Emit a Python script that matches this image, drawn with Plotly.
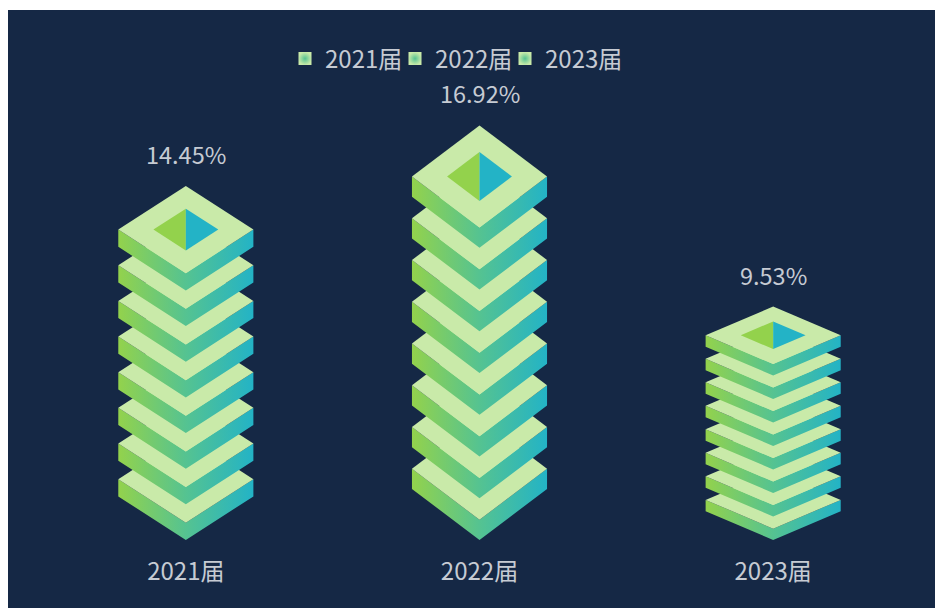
import plotly.graph_objects as go

categories = ["2021届", "2022届", "2023届"]
values = [14.45, 16.92, 9.53]
REPEAT = 8

NAVY = "#152845"
PLATE = "#c9eaa9"
GREEN = "#93d24c"
TEAL = "#23b3c6"
MID = "#55c391"
TEXT = "#c6cbd3"
FONT = "Noto Sans CJK SC"
FS = 24

HALF_W = 0.23        # half symbol width, x-axis units
SYM_FRAC = 0.295     # symbol height as fraction of bar
THICK_FRAC = 0.165   # side thickness as fraction of symbol
INNER = 0.48         # inner diamond size relative to plate

ramp = [[0, GREEN], [0.5, MID], [1, TEAL]]
fig = go.Figure()

for idx, v in enumerate(values):
    S = v * SYM_FRAC
    t = S * THICK_FRAC
    h = S - t
    step = (v - S) / (REPEAT - 1)
    for i in range(REPEAT):
        b = i * step
        mid = b + t + h / 2
        # side faces
        fig.add_trace(go.Scatter(
            x=[idx - HALF_W, idx, idx + HALF_W, idx + HALF_W, idx, idx - HALF_W, idx - HALF_W],
            y=[mid, b + t, mid, mid - t, b, mid - t, mid],
            mode="lines", line=dict(width=0), fill="toself",
            fillgradient=dict(type="horizontal", colorscale=ramp),
            hoverinfo="skip", showlegend=False))
        # top plate
        fig.add_trace(go.Scatter(
            x=[idx - HALF_W, idx, idx + HALF_W, idx, idx - HALF_W],
            y=[mid, b + t + h, mid, b + t, mid],
            mode="lines", line=dict(width=0), fill="toself", fillcolor=PLATE,
            hoverinfo="skip", showlegend=False))
    # inner diamond of the top symbol
    b = (REPEAT - 1) * step
    mid = b + t + h / 2
    iw, ih = HALF_W * INNER, h / 2 * INNER
    fig.add_trace(go.Scatter(
        x=[idx - iw, idx, idx, idx - iw], y=[mid, mid + ih, mid - ih, mid],
        mode="lines", line=dict(width=0), fill="toself", fillcolor=GREEN,
        hoverinfo="skip", showlegend=False))
    fig.add_trace(go.Scatter(
        x=[idx + iw, idx, idx, idx + iw], y=[mid, mid + ih, mid - ih, mid],
        mode="lines", line=dict(width=0), fill="toself", fillcolor=TEAL,
        hoverinfo="skip", showlegend=False))
    fig.add_annotation(x=idx, y=v, text=f"{v:.2f}%", showarrow=False, yshift=32,
                       yanchor="middle", font=dict(family=FONT, size=FS - 0.5, color=TEXT))

legend_ids = ["legend", "legend2", "legend3"]
legend_left = [285, 395, 505]   # left edge of each legend entry, px
for c, lid in zip(categories, legend_ids):
    fig.add_trace(go.Scatter(
        x=[None], y=[None], mode="markers", name=c, legend=lid,
        marker=dict(symbol="square", size=13, color=PLATE,
                    gradient=dict(type="radial", color=MID),
                    line=dict(width=0))))

legends = {
    lid: dict(orientation="h", x=px / 935, xanchor="left", xref="container",
              y=0.903, yanchor="middle", yref="container",
              bgcolor="rgba(0,0,0,0)", font=dict(family=FONT, size=FS, color=TEXT))
    for lid, px in zip(legend_ids, legend_left)
}

fig.update_layout(
    width=935, height=608,
    margin=dict(l=39, r=15, t=50, b=68, autoexpand=False),
    paper_bgcolor=NAVY, plot_bgcolor=NAVY,
    font=dict(family=FONT, size=FS, color=TEXT),
    xaxis=dict(range=[-0.5, 2.5], tickvals=[0, 1, 2], ticktext=categories,
               showgrid=False, zeroline=False, showline=False, ticks="outside",
               ticklen=10, tickcolor="rgba(0,0,0,0)",
               tickfont=dict(family=FONT, size=FS, color=TEXT)),
    yaxis=dict(range=[0, 20], visible=False),
    shapes=[
        dict(type="rect", xref="paper", yref="paper", x0=-39/881, x1=-31/881, y0=-68/490, y1=540/490,
             fillcolor="#ffffff", line=dict(width=0), layer="above"),
        dict(type="rect", xref="paper", yref="paper", x0=-39/881, x1=896/881, y0=530/490, y1=540/490,
             fillcolor="#ffffff", line=dict(width=0), layer="above"),
    ],
    **legends,
)
fig.write_html("out.html", config={"displayModeBar": False},
               post_script="document.body.style.margin='0';")
